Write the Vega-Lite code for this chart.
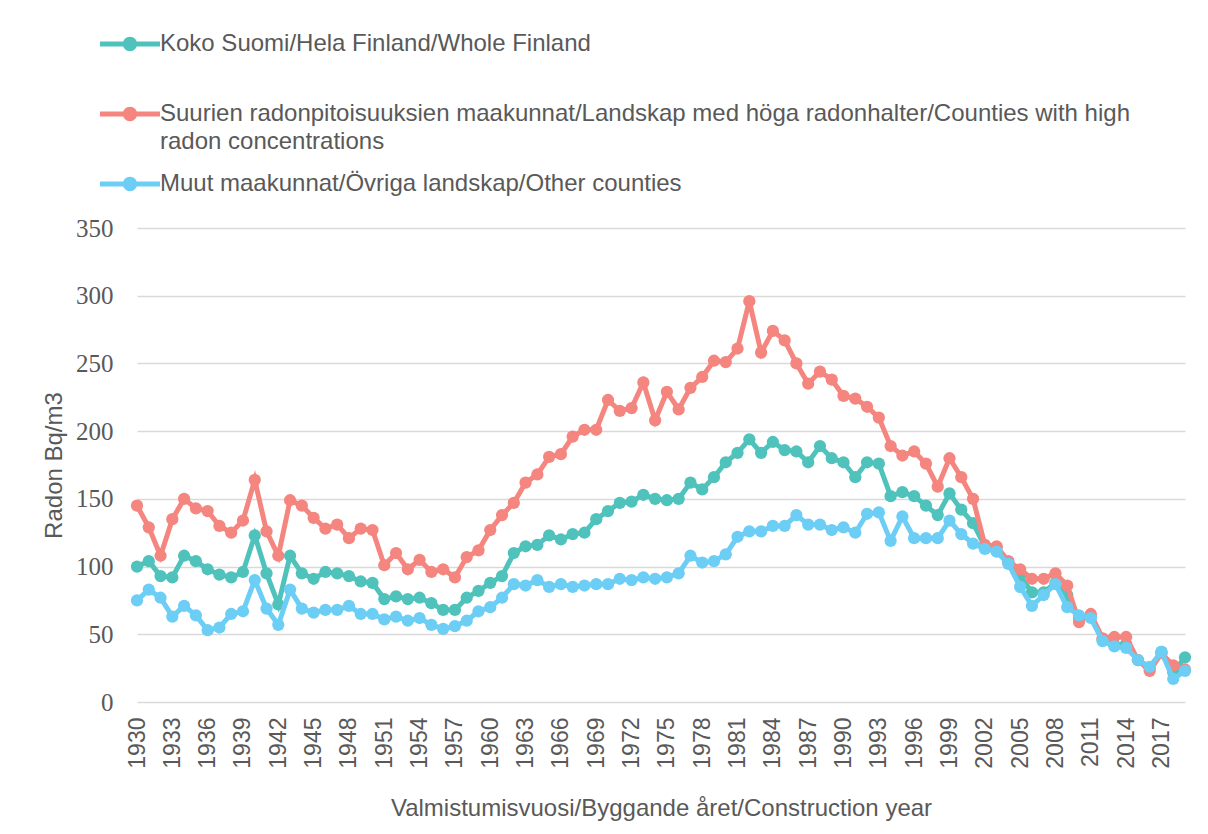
{
  "$schema": "https://vega.github.io/schema/vega-lite/v6.json",
  "width": 1048,
  "height": 474,
  "autosize": {"type": "none"},
  "padding": {"left": 137, "top": 228, "right": 23, "bottom": 132},
  "background": "white",
  "config": {"view": {"stroke": null}},
  "data": {"values": [
    {"s":"Koko","year":1930,"v":100},{"s":"Koko","year":1931,"v":104},{"s":"Koko","year":1932,"v":93},{"s":"Koko","year":1933,"v":92},{"s":"Koko","year":1934,"v":108},{"s":"Koko","year":1935,"v":104},{"s":"Koko","year":1936,"v":98},{"s":"Koko","year":1937,"v":94},{"s":"Koko","year":1938,"v":92},{"s":"Koko","year":1939,"v":96},
    {"s":"Koko","year":1940,"v":123},{"s":"Koko","year":1941,"v":95},{"s":"Koko","year":1942,"v":72},{"s":"Koko","year":1943,"v":108},{"s":"Koko","year":1944,"v":95},{"s":"Koko","year":1945,"v":91},{"s":"Koko","year":1946,"v":96},{"s":"Koko","year":1947,"v":95},{"s":"Koko","year":1948,"v":93},{"s":"Koko","year":1949,"v":89},
    {"s":"Koko","year":1950,"v":88},{"s":"Koko","year":1951,"v":76},{"s":"Koko","year":1952,"v":78},{"s":"Koko","year":1953,"v":76},{"s":"Koko","year":1954,"v":77},{"s":"Koko","year":1955,"v":73},{"s":"Koko","year":1956,"v":68},{"s":"Koko","year":1957,"v":68},{"s":"Koko","year":1958,"v":77},{"s":"Koko","year":1959,"v":82},
    {"s":"Koko","year":1960,"v":88},{"s":"Koko","year":1961,"v":93},{"s":"Koko","year":1962,"v":110},{"s":"Koko","year":1963,"v":115},{"s":"Koko","year":1964,"v":116},{"s":"Koko","year":1965,"v":123},{"s":"Koko","year":1966,"v":120},{"s":"Koko","year":1967,"v":124},{"s":"Koko","year":1968,"v":125},{"s":"Koko","year":1969,"v":135},
    {"s":"Koko","year":1970,"v":141},{"s":"Koko","year":1971,"v":147},{"s":"Koko","year":1972,"v":148},{"s":"Koko","year":1973,"v":153},{"s":"Koko","year":1974,"v":150},{"s":"Koko","year":1975,"v":149},{"s":"Koko","year":1976,"v":150},{"s":"Koko","year":1977,"v":162},{"s":"Koko","year":1978,"v":157},{"s":"Koko","year":1979,"v":166},
    {"s":"Koko","year":1980,"v":177},{"s":"Koko","year":1981,"v":184},{"s":"Koko","year":1982,"v":194},{"s":"Koko","year":1983,"v":184},{"s":"Koko","year":1984,"v":192},{"s":"Koko","year":1985,"v":186},{"s":"Koko","year":1986,"v":185},{"s":"Koko","year":1987,"v":177},{"s":"Koko","year":1988,"v":189},{"s":"Koko","year":1989,"v":180},
    {"s":"Koko","year":1990,"v":177},{"s":"Koko","year":1991,"v":166},{"s":"Koko","year":1992,"v":177},{"s":"Koko","year":1993,"v":176},{"s":"Koko","year":1994,"v":152},{"s":"Koko","year":1995,"v":155},{"s":"Koko","year":1996,"v":152},{"s":"Koko","year":1997,"v":145},{"s":"Koko","year":1998,"v":138},{"s":"Koko","year":1999,"v":154},
    {"s":"Koko","year":2000,"v":142},{"s":"Koko","year":2001,"v":132},{"s":"Koko","year":2002,"v":115},{"s":"Koko","year":2003,"v":114},{"s":"Koko","year":2004,"v":103},{"s":"Koko","year":2005,"v":93},{"s":"Koko","year":2006,"v":81},{"s":"Koko","year":2007,"v":81},{"s":"Koko","year":2008,"v":88},{"s":"Koko","year":2009,"v":79},
    {"s":"Koko","year":2010,"v":62},{"s":"Koko","year":2011,"v":63},{"s":"Koko","year":2012,"v":46},{"s":"Koko","year":2013,"v":42},{"s":"Koko","year":2014,"v":43},{"s":"Koko","year":2015,"v":31},{"s":"Koko","year":2016,"v":25},{"s":"Koko","year":2017,"v":37},{"s":"Koko","year":2018,"v":22},{"s":"Koko","year":2019,"v":33},
    {"s":"Suurien","year":1930,"v":145},{"s":"Suurien","year":1931,"v":129},{"s":"Suurien","year":1932,"v":108},{"s":"Suurien","year":1933,"v":135},{"s":"Suurien","year":1934,"v":150},{"s":"Suurien","year":1935,"v":143},{"s":"Suurien","year":1936,"v":141},{"s":"Suurien","year":1937,"v":130},{"s":"Suurien","year":1938,"v":125},{"s":"Suurien","year":1939,"v":134},
    {"s":"Suurien","year":1940,"v":164},{"s":"Suurien","year":1941,"v":126},{"s":"Suurien","year":1942,"v":108},{"s":"Suurien","year":1943,"v":149},{"s":"Suurien","year":1944,"v":145},{"s":"Suurien","year":1945,"v":136},{"s":"Suurien","year":1946,"v":128},{"s":"Suurien","year":1947,"v":131},{"s":"Suurien","year":1948,"v":121},{"s":"Suurien","year":1949,"v":128},
    {"s":"Suurien","year":1950,"v":127},{"s":"Suurien","year":1951,"v":101},{"s":"Suurien","year":1952,"v":110},{"s":"Suurien","year":1953,"v":98},{"s":"Suurien","year":1954,"v":105},{"s":"Suurien","year":1955,"v":96},{"s":"Suurien","year":1956,"v":98},{"s":"Suurien","year":1957,"v":92},{"s":"Suurien","year":1958,"v":107},{"s":"Suurien","year":1959,"v":112},
    {"s":"Suurien","year":1960,"v":127},{"s":"Suurien","year":1961,"v":138},{"s":"Suurien","year":1962,"v":147},{"s":"Suurien","year":1963,"v":162},{"s":"Suurien","year":1964,"v":168},{"s":"Suurien","year":1965,"v":181},{"s":"Suurien","year":1966,"v":183},{"s":"Suurien","year":1967,"v":196},{"s":"Suurien","year":1968,"v":201},{"s":"Suurien","year":1969,"v":201},
    {"s":"Suurien","year":1970,"v":223},{"s":"Suurien","year":1971,"v":215},{"s":"Suurien","year":1972,"v":217},{"s":"Suurien","year":1973,"v":236},{"s":"Suurien","year":1974,"v":208},{"s":"Suurien","year":1975,"v":229},{"s":"Suurien","year":1976,"v":216},{"s":"Suurien","year":1977,"v":232},{"s":"Suurien","year":1978,"v":240},{"s":"Suurien","year":1979,"v":252},
    {"s":"Suurien","year":1980,"v":251},{"s":"Suurien","year":1981,"v":261},{"s":"Suurien","year":1982,"v":296},{"s":"Suurien","year":1983,"v":258},{"s":"Suurien","year":1984,"v":274},{"s":"Suurien","year":1985,"v":267},{"s":"Suurien","year":1986,"v":250},{"s":"Suurien","year":1987,"v":235},{"s":"Suurien","year":1988,"v":244},{"s":"Suurien","year":1989,"v":238},
    {"s":"Suurien","year":1990,"v":226},{"s":"Suurien","year":1991,"v":224},{"s":"Suurien","year":1992,"v":218},{"s":"Suurien","year":1993,"v":210},{"s":"Suurien","year":1994,"v":189},{"s":"Suurien","year":1995,"v":182},{"s":"Suurien","year":1996,"v":185},{"s":"Suurien","year":1997,"v":176},{"s":"Suurien","year":1998,"v":159},{"s":"Suurien","year":1999,"v":180},
    {"s":"Suurien","year":2000,"v":166},{"s":"Suurien","year":2001,"v":150},{"s":"Suurien","year":2002,"v":116},{"s":"Suurien","year":2003,"v":115},{"s":"Suurien","year":2004,"v":104},{"s":"Suurien","year":2005,"v":98},{"s":"Suurien","year":2006,"v":91},{"s":"Suurien","year":2007,"v":91},{"s":"Suurien","year":2008,"v":95},{"s":"Suurien","year":2009,"v":86},
    {"s":"Suurien","year":2010,"v":59},{"s":"Suurien","year":2011,"v":65},{"s":"Suurien","year":2012,"v":47},{"s":"Suurien","year":2013,"v":48},{"s":"Suurien","year":2014,"v":48},{"s":"Suurien","year":2015,"v":31},{"s":"Suurien","year":2016,"v":23},{"s":"Suurien","year":2017,"v":36},{"s":"Suurien","year":2018,"v":27},{"s":"Suurien","year":2019,"v":24},
    {"s":"Muut","year":1930,"v":75},{"s":"Muut","year":1931,"v":83},{"s":"Muut","year":1932,"v":77},{"s":"Muut","year":1933,"v":63},{"s":"Muut","year":1934,"v":71},{"s":"Muut","year":1935,"v":64},{"s":"Muut","year":1936,"v":53},{"s":"Muut","year":1937,"v":55},{"s":"Muut","year":1938,"v":65},{"s":"Muut","year":1939,"v":67},
    {"s":"Muut","year":1940,"v":90},{"s":"Muut","year":1941,"v":69},{"s":"Muut","year":1942,"v":57},{"s":"Muut","year":1943,"v":83},{"s":"Muut","year":1944,"v":69},{"s":"Muut","year":1945,"v":66},{"s":"Muut","year":1946,"v":68},{"s":"Muut","year":1947,"v":68},{"s":"Muut","year":1948,"v":71},{"s":"Muut","year":1949,"v":65},
    {"s":"Muut","year":1950,"v":65},{"s":"Muut","year":1951,"v":61},{"s":"Muut","year":1952,"v":63},{"s":"Muut","year":1953,"v":60},{"s":"Muut","year":1954,"v":62},{"s":"Muut","year":1955,"v":57},{"s":"Muut","year":1956,"v":54},{"s":"Muut","year":1957,"v":56},{"s":"Muut","year":1958,"v":60},{"s":"Muut","year":1959,"v":67},
    {"s":"Muut","year":1960,"v":70},{"s":"Muut","year":1961,"v":77},{"s":"Muut","year":1962,"v":87},{"s":"Muut","year":1963,"v":86},{"s":"Muut","year":1964,"v":90},{"s":"Muut","year":1965,"v":85},{"s":"Muut","year":1966,"v":87},{"s":"Muut","year":1967,"v":85},{"s":"Muut","year":1968,"v":86},{"s":"Muut","year":1969,"v":87},
    {"s":"Muut","year":1970,"v":87},{"s":"Muut","year":1971,"v":91},{"s":"Muut","year":1972,"v":90},{"s":"Muut","year":1973,"v":92},{"s":"Muut","year":1974,"v":91},{"s":"Muut","year":1975,"v":92},{"s":"Muut","year":1976,"v":95},{"s":"Muut","year":1977,"v":108},{"s":"Muut","year":1978,"v":103},{"s":"Muut","year":1979,"v":104},
    {"s":"Muut","year":1980,"v":109},{"s":"Muut","year":1981,"v":122},{"s":"Muut","year":1982,"v":126},{"s":"Muut","year":1983,"v":126},{"s":"Muut","year":1984,"v":130},{"s":"Muut","year":1985,"v":130},{"s":"Muut","year":1986,"v":138},{"s":"Muut","year":1987,"v":131},{"s":"Muut","year":1988,"v":131},{"s":"Muut","year":1989,"v":127},
    {"s":"Muut","year":1990,"v":129},{"s":"Muut","year":1991,"v":125},{"s":"Muut","year":1992,"v":139},{"s":"Muut","year":1993,"v":140},{"s":"Muut","year":1994,"v":119},{"s":"Muut","year":1995,"v":137},{"s":"Muut","year":1996,"v":121},{"s":"Muut","year":1997,"v":121},{"s":"Muut","year":1998,"v":121},{"s":"Muut","year":1999,"v":134},
    {"s":"Muut","year":2000,"v":124},{"s":"Muut","year":2001,"v":117},{"s":"Muut","year":2002,"v":113},{"s":"Muut","year":2003,"v":111},{"s":"Muut","year":2004,"v":102},{"s":"Muut","year":2005,"v":85},{"s":"Muut","year":2006,"v":71},{"s":"Muut","year":2007,"v":79},{"s":"Muut","year":2008,"v":87},{"s":"Muut","year":2009,"v":70},
    {"s":"Muut","year":2010,"v":64},{"s":"Muut","year":2011,"v":62},{"s":"Muut","year":2012,"v":45},{"s":"Muut","year":2013,"v":41},{"s":"Muut","year":2014,"v":40},{"s":"Muut","year":2015,"v":31},{"s":"Muut","year":2016,"v":26},{"s":"Muut","year":2017,"v":37},{"s":"Muut","year":2018,"v":17},{"s":"Muut","year":2019,"v":23}
  ]},
  "encoding": {
    "x": {
      "field": "year", "type": "quantitative",
      "scale": {"domain": [1930, 2019], "nice": false, "zero": false},
      "axis": {
        "values": [1930,1933,1936,1939,1942,1945,1948,1951,1954,1957,1960,1963,1966,1969,1972,1975,1978,1981,1984,1987,1990,1993,1996,1999,2002,2005,2008,2011,2014,2017],
        "format": "d", "labelAngle": -90, "labelFont": "Liberation Sans", "labelFontSize": 23,
        "labelColor": "#595959", "ticks": false, "domain": false, "grid": false, "labelPadding": 15,
        "labelOverlap": false, "labelBound": false, "labelFlush": false,
        "title": "Valmistumisvuosi/Byggande året/Construction year",
        "titleFont": "Liberation Sans", "titleFontSize": 24, "titleFontWeight": "normal",
        "titleColor": "#595959", "titlePadding": 28
      }
    },
    "y": {
      "field": "v", "type": "quantitative",
      "scale": {"domain": [0, 350], "nice": false},
      "axis": {
        "values": [0,50,100,150,200,250,300,350],
        "labelFont": "Liberation Serif", "labelFontSize": 25, "labelColor": "#595959",
        "ticks": false, "domain": false, "grid": true, "gridColor": "#D9D9D9", "gridWidth": 1.5,
        "labelPadding": 24,
        "title": "Radon Bq/m3", "titleFont": "Liberation Sans", "titleFontSize": 24,
        "titleFontWeight": "normal", "titleColor": "#595959", "titlePadding": 9
      }
    },
    "color": {
      "field": "s", "type": "nominal",
      "scale": {"domain": ["Koko", "Suurien", "Muut"], "range": ["#50C2BC", "#F4857F", "#6CCEF5"]},
      "legend": {
        "orient": "none", "legendX": -37, "legendY": -214, "direction": "vertical",
        "title": null, "padding": 0,
        "symbolType": "M-1,-0.085H1V0.085H-1Z M0.24,0A0.24,0.24,0,1,1,-0.24,0A0.24,0.24,0,1,1,0.24,0Z",
        "symbolSize": 3600, "symbolStrokeWidth": 0, "symbolOpacity": 1,
        "labelFont": "Liberation Sans", "labelFontSize": 24, "labelColor": "#595959",
        "labelOffset": 0, "labelLimit": 1200, "rowPadding": -1,
        "labelExpr": "datum.value == 'Koko' ? ['Koko Suomi/Hela Finland/Whole Finland', ''] : datum.value == 'Suurien' ? ['Suurien radonpitoisuuksien maakunnat/Landskap med höga radonhalter/Counties with high', 'radon concentrations'] : ['Muut maakunnat/Övriga landskap/Other counties', '']",
        "encode": {
          "symbols": {"update": {"fill": {"scale": "color", "field": "value"}, "stroke": {"value": "transparent"}}},
          "labels": {"update": {"lineHeight": {"value": 28}}}
        }
      }
    }
  },
  "layer": [
    {"transform": [{"filter": "datum.s == 'Koko'"}], "mark": {"type": "line", "strokeWidth": 5, "point": {"filled": true, "size": 150, "opacity": 1}}},
    {"transform": [{"filter": "datum.s == 'Suurien'"}], "mark": {"type": "line", "strokeWidth": 5, "point": {"filled": true, "size": 150, "opacity": 1}}},
    {"transform": [{"filter": "datum.s == 'Muut'"}], "mark": {"type": "line", "strokeWidth": 5, "point": {"filled": true, "size": 150, "opacity": 1}}}
  ]
}
